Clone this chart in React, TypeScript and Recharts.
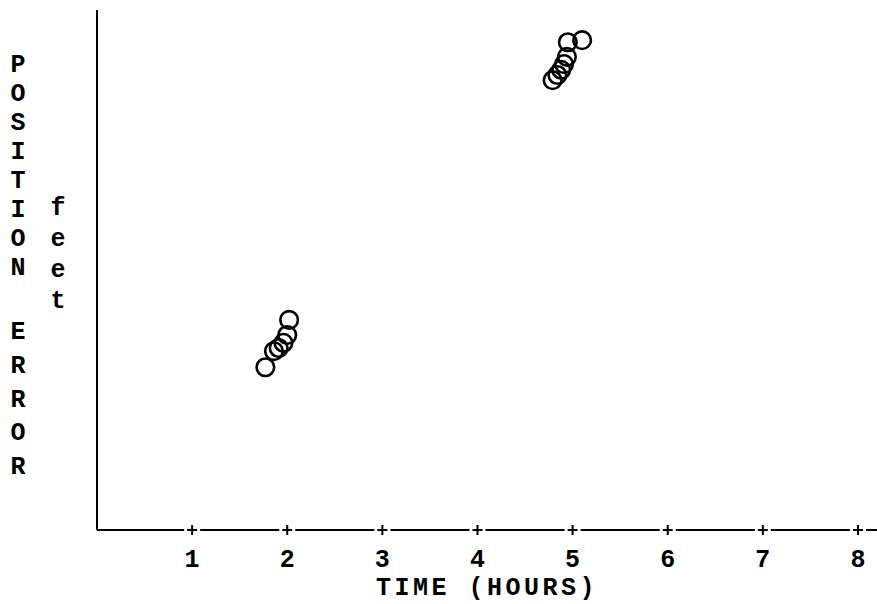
import React from 'react';
import { ScatterChart, Scatter, XAxis, YAxis, Label } from 'recharts';

// readings taken off the plot (hours, relative position error)
const firstPassHours = [1.77, 1.86, 1.91, 1.96, 2.0, 2.02];
const firstPassError = [31.3, 34.4, 35.0, 36.0, 37.5, 40.4];
const secondPassHours = [4.79, 4.84, 4.88, 4.91, 4.94, 4.95, 5.1];
const secondPassError = [86.5, 87.5, 88.5, 89.6, 91.0, 93.8, 94.2];
const hourTicks = [1, 2, 3, 4, 5, 6, 7, 8];
const titleFirstWord = ['P', 'O', 'S', 'I', 'T', 'I', 'O', 'N'];
const titleSecondWord = ['E', 'R', 'R', 'O', 'R'];
const unitTitle = ['f', 'e', 'e', 't'];

const FONT = '"Liberation Mono", "DejaVu Sans Mono", monospace';

const points = [
  ...firstPassHours.map((t, i) => ({ t, err: firstPassError[i] })),
  ...secondPassHours.map((t, i) => ({ t, err: secondPassError[i] })),
];

const PlusTick = (props: any) => {
  const { x, y, payload } = props;
  return (
    <g>
      <rect x={x - 8} y={y - 3} width={16} height={6} fill="#fff" />
      <line x1={x - 5} y1={y} x2={x + 5} y2={y} stroke="#000" strokeWidth={2} />
      <line x1={x} y1={y - 5} x2={x} y2={y + 5} stroke="#000" strokeWidth={2} />
      <text x={x} y={y + 37} textAnchor="middle" fontFamily={FONT} fontWeight="bold" fontSize={25} fill="#000">
        {payload.value}
      </text>
    </g>
  );
};

const Ring = (props: any) => {
  const { cx, cy } = props;
  return <circle cx={cx} cy={cy} r={8.8} fill="none" stroke="#000" strokeWidth={2.6} />;
};

// vertical, letter-per-line axis title like the typed original
const YTitle = () => (
  <g fontFamily={FONT} fontWeight="bold" fontSize={25} fill="#000">
    {titleFirstWord.map((ch, i) => (
      <text key={'p' + i} x={18} y={72 + i * 29} textAnchor="middle">{ch}</text>
    ))}
    {titleSecondWord.map((ch, i) => (
      <text key={'e' + i} x={18} y={339 + i * 33.75} textAnchor="middle">{ch}</text>
    ))}
    {unitTitle.map((ch, i) => (
      <text key={'f' + i} x={58} y={215 + i * 31} textAnchor="middle">{ch}</text>
    ))}
  </g>
);

export default function App() {
  return (
    <div style={{ position: 'absolute', left: 0, top: 0, background: '#fff' }}>
      <ScatterChart width={877} height={604} margin={{ top: 10, right: 0, bottom: 0, left: 96 }}>
        <XAxis
          type="number"
          dataKey="t"
          domain={[0, 8.2]}
          ticks={hourTicks}
          height={74}
          tickSize={0}
          tickMargin={0}
          tickLine={false}
          tick={<PlusTick />}
          axisLine={{ stroke: '#000', strokeWidth: 2 }}
          allowDataOverflow
        >
          <Label
            value="TIME (HOURS)"
            position="insideBottom"
            offset={9}
            fill="#000"
            fontFamily={FONT}
            fontWeight="bold"
            fontSize={25}
            letterSpacing={3.5}
          />
        </XAxis>
        <YAxis
          type="number"
          dataKey="err"
          domain={[0, 100]}
          width={1}
          tick={false}
          tickLine={false}
          axisLine={{ stroke: '#000', strokeWidth: 2 }}
          label={<YTitle />}
        />
        <Scatter data={points} shape={<Ring />} isAnimationActive={false} />
      </ScatterChart>
    </div>
  );
}
